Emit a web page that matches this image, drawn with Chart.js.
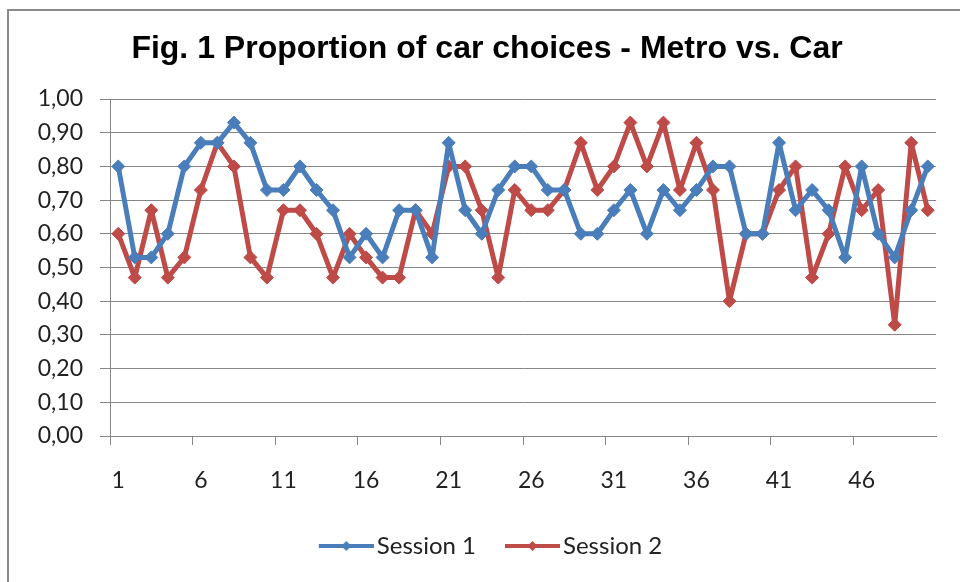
<!DOCTYPE html>
<html lang="en">
<head>
<meta charset="UTF-8">
<title>Proportion of car choices</title>
<script src="https://cdn.jsdelivr.net/npm/chart.js"></script>
<style>
    body { margin: 0; background: #fff; }
    canvas { display: block; }
</style>
</head>
<body>
<canvas id="chart" width="960" height="582"></canvas>
<script>
    // chart data
    const categories = ['1','2','3','4','5','6','7','8','9','10',
        '11','12','13','14','15','16','17','18','19','20',
        '21','22','23','24','25','26','27','28','29','30',
        '31','32','33','34','35','36','37','38','39','40',
        '41','42','43','44','45','46','47','48','49','50'];

    const session1 = [0.80, 0.53, 0.53, 0.60, 0.80, 0.87, 0.87, 0.93, 0.87, 0.73,
        0.73, 0.80, 0.73, 0.67, 0.53, 0.60, 0.53, 0.67, 0.67, 0.53,
        0.87, 0.67, 0.60, 0.73, 0.80, 0.80, 0.73, 0.73, 0.60, 0.60,
        0.67, 0.73, 0.60, 0.73, 0.67, 0.73, 0.80, 0.80, 0.60, 0.60,
        0.87, 0.67, 0.73, 0.67, 0.53, 0.80, 0.60, 0.53, 0.67, 0.80];

    const session2 = [0.60, 0.47, 0.67, 0.47, 0.53, 0.73, 0.87, 0.80, 0.53, 0.47,
        0.67, 0.67, 0.60, 0.47, 0.60, 0.53, 0.47, 0.47, 0.67, 0.60,
        0.80, 0.80, 0.67, 0.47, 0.73, 0.67, 0.67, 0.73, 0.87, 0.73,
        0.80, 0.93, 0.80, 0.93, 0.73, 0.87, 0.73, 0.40, 0.60, 0.60,
        0.73, 0.80, 0.47, 0.60, 0.80, 0.67, 0.73, 0.33, 0.87, 0.67];

    const xTickLabels = ['1', '6', '11', '16', '21', '26', '31', '36', '41', '46'];
    const yTickLabels = ['0,00', '0,10', '0,20', '0,30', '0,40', '0,50', '0,60', '0,70', '0,80', '0,90', '1,00'];
    const seriesNames = ['Session 1', 'Session 2'];
    const seriesColors = ['#4A7EBB', '#BE4B48'];

    const gridGray = '#868686';
    const labelFont = { family: 'Lato', size: 23 };

    // legend marker: short line with a diamond, like the Excel legend
    // (canvas is wider than the legend box so the line sits where Excel puts it)
    function legendIcon(color) {
        const c = document.createElement('canvas');
        c.width = 71;
        c.height = 14;
        const g = c.getContext('2d');
        g.strokeStyle = color;
        g.lineWidth = 4;
        g.beginPath();
        g.moveTo(16, 7);
        g.lineTo(71, 7);
        g.stroke();
        g.fillStyle = color;
        g.beginPath();
        g.moveTo(43.5, 2);
        g.lineTo(48.5, 7);
        g.lineTo(43.5, 12);
        g.lineTo(38.5, 7);
        g.closePath();
        g.fill();
        return c;
    }
    const legendIcons = seriesColors.map(legendIcon);

    // white background and the grey frame round the chart
    const framePlugin = {
        id: 'frame',
        beforeDraw(chart) {
            const ctx = chart.ctx;
            ctx.save();
            ctx.fillStyle = '#fff';
            ctx.fillRect(0, 0, chart.width, chart.height);
            ctx.strokeStyle = '#8a8a8a';
            ctx.lineWidth = 2;
            ctx.strokeRect(8, 10, 1000, 1000);
            ctx.restore();
        }
    };

    function makeDataset(label, data, color) {
        return {
            label: label,
            data: data,
            borderColor: color,
            backgroundColor: color,
            borderWidth: 5,
            borderJoinStyle: 'round',
            borderCapStyle: 'round',
            pointStyle: 'rectRot',
            pointRadius: 6.5,
            pointBorderWidth: 1,
            pointHoverRadius: 6.5,
            tension: 0
        };
    }

    new Chart(document.getElementById('chart'), {
        type: 'line',
        data: {
            labels: categories,
            datasets: [
                makeDataset(seriesNames[0], session1, seriesColors[0]),
                makeDataset(seriesNames[1], session2, seriesColors[1])
            ]
        },
        options: {
            responsive: false,
            animation: false,
            devicePixelRatio: 1,
            layout: { padding: { left: 38, right: 24, top: 0, bottom: 14 } },
            plugins: {
                title: {
                    display: true,
                    text: 'Fig. 1 Proportion of car choices - Metro vs. Car',
                    color: '#000',
                    font: { family: 'Liberation Sans', size: 32, weight: 'bold' },
                    padding: { top: 30, bottom: 30.6 }
                },
                legend: {
                    position: 'bottom',
                    labels: {
                        usePointStyle: true,
                        pointStyleWidth: 53,
                        padding: 22,
                        color: '#222',
                        font: { family: 'Lato', size: 24 },
                        generateLabels(chart) {
                            const items = Chart.defaults.plugins.legend.labels.generateLabels(chart);
                            items.forEach((item, i) => { item.pointStyle = legendIcons[i]; });
                            return items;
                        }
                    }
                },
                tooltip: { enabled: false }
            },
            scales: {
                x: {
                    offset: true,
                    grid: {
                        offset: true,
                        drawOnChartArea: false,
                        drawTicks: true,
                        tickLength: 9,
                        color: ctx => (ctx.index % 5 === 0 ? gridGray : 'rgba(0,0,0,0)')
                    },
                    border: { display: true, color: gridGray },
                    ticks: {
                        autoSkip: false,
                        maxRotation: 0,
                        minRotation: 0,
                        padding: 22,
                        color: '#222',
                        font: labelFont,
                        callback: (v, i) => (xTickLabels.includes(categories[i]) ? categories[i] : '')
                    },
                    afterFit: scale => { scale.height = 76; }
                },
                y: {
                    min: 0,
                    max: 1,
                    grid: { color: gridGray, tickLength: 10 },
                    border: { display: true, color: gridGray },
                    ticks: {
                        stepSize: 0.1,
                        padding: 17,
                        color: '#222',
                        font: labelFont,
                        callback: (v, i) => yTickLabels[i]
                    },
                    afterFit: scale => { scale.width = 72; }
                }
            }
        },
        plugins: [framePlugin]
    });
</script>
</body>
</html>
